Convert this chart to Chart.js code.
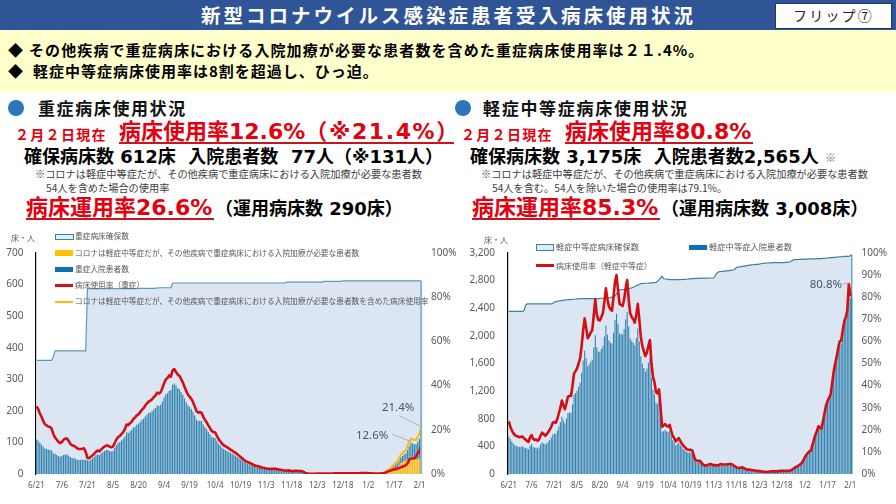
<!DOCTYPE html>
<html lang="ja"><head><meta charset="utf-8">
<script src="https://cdn.jsdelivr.net/npm/chart.js@4/dist/chart.umd.min.js"></script>
<style>
html,body{margin:0;padding:0;background:#fff;overflow:hidden}
#page{position:relative;width:896px;height:504px;overflow:hidden;font-family:"Noto Sans CJK JP",sans-serif}
.t{position:absolute;white-space:pre;transform:translateY(-50%);line-height:1.2}
.b{font-weight:700}
.wide{font-family:"DejaVu Sans","Noto Sans CJK JP",sans-serif;font-weight:700}
.red{color:#e3000f}
.big{font-size:22px}
.mid{font-size:18px;color:#000}
.note{font-size:10.2px;color:#404040}
.lg{font-size:7.7px;color:#595959}
.r{position:absolute}
canvas{position:absolute}
</style></head><body><div id="page">
<div class="r" style="left:0;top:0;width:896px;height:30px;background:#2f5597"></div>
<div class="t b" style="left:201px;top:15px;font-size:19.5px;letter-spacing:3px;color:#fff">新型コロナウイルス感染症患者受入病床使用状況</div>
<div class="r" style="left:775px;top:3px;width:115px;height:24px;background:#fff;border:1px solid #1f3864"></div>
<div class="t" style="left:793px;top:15px;font-size:14px;letter-spacing:2.2px;color:#222">フリップ⑦</div>
<div class="r" style="left:0;top:30px;width:896px;height:62px;background:#ffffcc"></div>
<div class="t b" style="left:8px;top:50px;font-size:15px;color:#000">◆</div>
<div class="t b" style="left:29px;top:50px;font-size:15px;letter-spacing:1.1px;color:#000">その他疾病で重症病床における入院加療が必要な患者数を含めた重症病床使用率は２１.4%。</div>
<div class="t b" style="left:8px;top:71px;font-size:15px;color:#000">◆</div>
<div class="t b" style="left:33px;top:71px;font-size:15px;letter-spacing:1px;color:#000">軽症中等症病床使用率は8割を超過し、ひっ迫。</div>

<div class="r" style="left:8px;top:100px;width:16px;height:16px;border-radius:50%;background:#2e75b6"></div>
<div class="t b" style="left:38px;top:108px;font-size:17px;letter-spacing:1.6px;color:#111">重症病床使用状況</div>
<div class="t b red" style="left:15px;top:134px;font-size:14px;letter-spacing:1.3px">２月２日現在</div>
<div class="t wide red big" style="left:119px;top:132px">病床使用率12.6%<span style="letter-spacing:1.6px">（※21.4%）</span></div>
<div class="r" style="left:119px;top:142px;width:335px;height:1.5px;background:#c5161d"></div>
<div class="t wide mid" style="left:24px;top:157px">確保病床数 612床  入院患者数  77人（※131人）</div>
<div class="t note" style="left:35px;top:174px">※コロナは軽症中等症だが、その他疾病で重症病床における入院加療が必要な患者数</div>
<div class="t note" style="left:46px;top:188px">54人を含めた場合の使用率</div>
<div class="t wide red big" style="left:26px;top:208px">病床運用率26.6%</div>
<div class="r" style="left:26px;top:218px;width:188px;height:1.5px;background:#c5161d"></div>
<div class="t wide mid" style="left:215px;top:209px">（運用病床数 290床）</div>

<div class="r" style="left:455px;top:100px;width:16px;height:16px;border-radius:50%;background:#2e75b6"></div>
<div class="t b" style="left:483px;top:108px;font-size:17px;letter-spacing:1.7px;color:#111">軽症中等症病床使用状況</div>
<div class="t b red" style="left:461px;top:134px;font-size:14px;letter-spacing:1.3px">２月２日現在</div>
<div class="t wide red big" style="left:565px;top:132px">病床使用率80.8%</div>
<div class="r" style="left:565px;top:142px;width:188px;height:1.5px;background:#c5161d"></div>
<div class="t wide mid" style="left:470px;top:157px">確保病床数 3,175床  入院患者数2,565人</div>
<div class="t" style="left:825px;top:158px;font-size:11px;color:#777">※</div>
<div class="t note" style="left:481px;top:174px">※コロナは軽症中等症だが、その他疾病で重症病床における入院加療が必要な患者数</div>
<div class="t note" style="left:492px;top:188px">54人を含む。54人を除いた場合の使用率は79.1%。</div>
<div class="t wide red big" style="left:472px;top:208px">病床運用率85.3%</div>
<div class="r" style="left:472px;top:218px;width:188px;height:1.5px;background:#c5161d"></div>
<div class="t wide mid" style="left:661px;top:209px">（運用病床数 3,008床）</div>

<canvas id="c1" style="left:0;top:225px;width:470px;height:279px" width="470" height="279"></canvas>
<canvas id="c2" style="left:450px;top:225px;width:446px;height:279px" width="446" height="279"></canvas>

<div class="t lg" style="left:11px;top:238px;font-size:8px">床・人</div>
<div class="r" style="left:55px;top:234px;width:17px;height:4px;background:#deeef8;border:1px solid #3f8298"></div>
<div class="t lg" style="left:75px;top:236px">重症病床確保数</div>
<div class="r" style="left:55px;top:250px;width:18px;height:6px;background:#ffc000"></div>
<div class="t lg" style="left:75px;top:253px">コロナは軽症中等症だが、その他疾病で重症病床における入院加療が必要な患者数</div>
<div class="r" style="left:55px;top:267px;width:18px;height:5px;background:#0f6fb5"></div>
<div class="t lg" style="left:75px;top:269px">重症入院患者数</div>
<div class="r" style="left:55px;top:284px;width:18px;height:2.5px;background:#d40f14"></div>
<div class="t lg" style="left:75px;top:285px">病床使用率（重症）</div>
<div class="r" style="left:55px;top:301px;width:18px;height:2px;background:#ffc000"></div>
<div class="t lg" style="left:75px;top:301px">コロナは軽症中等症だが、その他疾病で重症病床における入院加療が必要な患者数を含めた病床使用率</div>

<div class="t lg" style="left:484px;top:240px;font-size:8px">床・人</div>
<div class="r" style="left:536px;top:244px;width:16px;height:5px;background:#deeef8;border:1px solid #3f8298"></div>
<div class="t lg" style="left:556px;top:247px;font-size:8.3px">軽症中等症病床確保数</div>
<div class="r" style="left:536px;top:264px;width:18px;height:2.5px;background:#d40f14"></div>
<div class="t lg" style="left:556px;top:266px;font-size:8px">病床使用率（軽症中等症）</div>
<div class="r" style="left:689px;top:245px;width:18px;height:5px;background:#0f6fb5"></div>
<div class="t lg" style="left:709px;top:247px;font-size:8.3px">軽症中等症入院患者数</div>
</div>
<script>
const monthSpans = [[6,21,30],[7,1,31],[8,1,31],[9,1,30],[10,1,31],[11,1,30],[12,1,31],[1,1,31],[2,1,2]];
const categories = [];
monthSpans.forEach(([m,a,b])=>{for(let d=a;d<=b;d++)categories.push(m+'/'+d);});
const tickLabels = ['6/21','7/6','7/21','8/5','8/20','9/4','9/19','10/4','10/19','11/3','11/18','12/3','12/18','1/2','1/17','2/1'];

const severeCapacity = [
360,360,360,360,360,360,360,360,360,360,
372,390,390,390,390,390,390,390,390,390,
390,390,390,390,390,390,390,390,390,390,
587,587,587,587,587,587,587,587,587,587,
587,587,587,587,587,587,587,587,587,587,
587,587,587,587,587,587,587,587,587,587,
588,588,588,588,588,588,588,588,588,588,
589,589,590,590,590,590,590,590,590,590,
605,605,605,605,605,605,605,605,605,605,
605,605,605,605,605,605,605,605,605,605,
605,605,605,605,605,605,605,605,605,605,
605,605,605,605,605,605,605,605,605,605,
605,605,605,605,605,605,605,605,605,605,
605,605,605,605,605,605,605,605,605,605,
605,605,605,605,605,605,605,608,608,608,
608,608,608,608,608,608,608,608,608,608,
608,608,608,608,608,608,608,608,608,610,
610,610,610,610,610,610,610,610,610,610,
612,612,612,612,612,612,612,612,612,612,
612,612,612,612,612,612,612,612,612,612,
612,612,612,612,612,612,612,612,612,612,
612,612,612,612,612,612,612,612,612,612,
612,612,612,612,612,612,612];
const severePatients = [
110,106,99,93,86,81,79,77,77,74,
65,64,60,57,55,57,60,62,62,58,
53,51,50,48,45,44,44,45,45,45,
43,42,46,49,54,59,62,60,65,69,
73,76,76,73,71,73,82,92,98,101,
106,112,119,132,130,135,139,147,150,156,
159,165,171,175,182,188,193,195,199,205,
209,217,215,219,229,242,252,256,263,266,
283,287,280,272,269,260,251,239,227,218,
212,206,197,185,173,168,169,168,157,148,
142,133,126,117,115,114,105,96,90,83,
79,76,73,70,67,64,61,58,54,50,
47,42,38,35,33,31,29,27,24,23,
22,21,18,17,16,15,15,15,14,14,
15,14,13,12,11,10,10,9,10,9,
8,8,9,9,8,8,8,6,3,2,
1,1,1,1,1,1,1,1,1,1,
1,1,1,1,1,2,2,2,2,2,
2,2,2,2,2,2,2,2,2,2,
2,2,2,2,2,2,2,2,1,1,
1,1,1,2,2,4,6,8,10,11,
12,13,15,17,18,20,22,24,29,40,
43,43,43,48,57,64,77];
const severeExtraTail = [2,4,4,5,6,10,13,17,19,26,34,37,40,42,47,48,55,54,51,46,45,48,54];
const severeExtra = new Array(204).fill(0).concat(severeExtraTail);
const severeRate = [
30.6,29.5,27.5,26,24,22.5,22,21.5,21.3,20.5,
18,16.5,15.5,14.5,14,14.5,15.5,16,16,15,
13.6,13,12.8,12.2,11.6,11.3,11.3,11.4,11.6,10,
7.3,7.2,7.8,8.4,9.2,10,10.6,10.2,11,11.8,
12.4,12.9,12.9,12.4,12.1,12.4,14,15.6,16.7,17.2,
18,19,20.3,22.4,22.1,23,23.6,25,25.6,26.5,
27,28,29,29.8,31,32,32.8,33.2,33.8,34.8,
35.6,36.8,36.4,37,38.8,41,42.8,43.4,44.6,44,
46.8,47.5,46.2,45,44.4,43,41.5,39.5,37.5,36,
35,34,32.6,30.6,28.6,27.8,28,27.7,26,24.5,
23.4,22,20.8,19.4,19,18.8,17.3,15.8,14.8,13.8,
13,12.6,12.1,11.6,11,10.6,10,9.6,9,8.3,
7.7,7,6.3,5.8,5.5,5.1,4.8,4.4,3.9,3.7,
3.6,3.4,3,2.8,2.7,2.5,2.4,2.4,2.3,2.3,
2.5,2.3,2.1,2,1.8,1.7,1.6,1.5,1.7,1.5,
1.3,1.3,1.5,1.4,1.3,1.3,1.3,0.9,0.5,0.3,
0.1,0.1,0.1,0.1,0.1,0.2,0.2,0.2,0.2,0.2,
0.2,0.2,0.2,0.2,0.2,0.3,0.3,0.3,0.3,0.3,
0.3,0.3,0.3,0.3,0.3,0.3,0.3,0.3,0.3,0.3,
0.3,0.4,0.4,0.4,0.4,0.3,0.3,0.3,0.2,0.2,
0.2,0.2,0.2,0.3,0.4,0.6,1,1.3,1.6,1.8,
2,2.2,2.4,2.7,3,3.3,3.6,4,4.8,6.6,
7,7,7.1,7.8,9.4,10.5,12.6];
const severeRateExtraTail = [0.7,1,1.6,2.2,2.6,3.4,4.2,5,5.6,7,8.6,9.4,10.2,10.9,12.5,14.5,16,15.8,15.4,15.4,16.8,18.4,21.4];
const severeRateExtra = new Array(204).fill(null).concat(severeRateExtraTail);

const moderateCapacity = [
2356,2356,2356,2356,2356,2356,2356,2356,2356,2356,
2365,2440,2462,2462,2462,2462,2462,2462,2462,2462,
2462,2462,2462,2462,2462,2462,2462,2462,2462,2470,
2490,2495,2500,2505,2510,2510,2515,2520,2520,2525,
2525,2525,2530,2530,2530,2535,2535,2540,2540,2540,
2540,2540,2540,2540,2540,2540,2540,2540,2540,2540,
2544,2545,2545,2548,2550,2550,2552,2555,2560,2565,
2580,2610,2650,2665,2668,2670,2672,2675,2680,2685,
2690,2695,2705,2715,2725,2735,2745,2756,2758,2760,
2762,2762,2765,2765,2768,2770,2770,2775,2790,2810,
2835,2862,2830,2824,2820,2818,2815,2814,2814,2814,
2814,2814,2815,2815,2816,2817,2818,2820,2822,2825,
2830,2830,2830,2832,2832,2833,2834,2835,2835,2835,
2836,2836,2838,2838,2838,2838,2870,2905,2925,2930,
2932,2935,2938,2940,2942,2945,2948,2950,2955,2965,
2993,2995,2998,3002,3006,3010,3014,3018,3022,3025,
3028,3030,3032,3034,3036,3040,3044,3048,3050,3052,
3055,3055,3058,3058,3060,3060,3060,3060,3060,3062,
3062,3062,3064,3065,3065,3070,3080,3095,3104,3105,
3106,3106,3108,3108,3110,3110,3112,3112,3114,3114,
3114,3116,3116,3118,3118,3120,3120,3122,3122,3124,
3128,3130,3132,3134,3136,3138,3140,3142,3144,3146,
3148,3150,3150,3152,3152,3160,3175];
const moderatePatients = [
540,505,470,440,415,405,400,392,396,398,
383,380,370,357,406,433,394,379,384,369,
384,431,460,443,426,443,468,492,529,571,
585,578,625,688,750,830,776,735,803,878,
890,888,1008,1146,1172,1205,1262,1320,1465,1645,
1785,1675,1560,1590,1627,1655,1830,2010,1834,1775,
1770,1810,1855,1990,2145,2018,1935,1905,1890,2045,
2225,2320,2175,2030,2030,2020,2100,2240,2350,2135,
1965,1925,1900,1865,1965,2105,1920,1705,1600,1535,
1480,1525,1610,1680,1385,1220,1155,1030,1015,1065,
840,610,620,640,615,605,625,550,487,456,
414,436,457,423,390,361,344,322,311,308,
311,297,227,176,170,171,171,143,120,111,
108,117,125,128,120,115,115,112,113,126,
132,127,127,128,131,133,134,132,118,106,
91,85,82,88,91,79,70,61,61,58,
55,52,49,46,43,40,37,34,31,31,
28,31,34,37,37,37,40,37,40,43,
43,46,43,43,43,46,53,65,84,96,
109,121,134,156,193,234,271,296,318,331,
406,481,556,609,675,656,641,750,860,970,
1033,1080,1124,1284,1441,1566,1660,1785,1880,1890,
2036,2160,2224,2320,2695,2545,2565];
const moderateRate = [
23.8,21.5,19.8,18.5,17.6,17.2,17,16.6,16.8,16.9,
16.2,15.6,15,14.5,16.5,17.6,16,15.4,15.6,15,
15.6,17.5,18.7,18,17.3,18,19,20,21.5,23.2,
23.5,23.2,25,27.5,30,33.2,31,29.3,32,35,
35.4,35.3,40,45.5,46.5,47.8,50,52.3,58,65,
70.4,66,61.4,62.5,64,65,72,79,72,69.7,
69.5,71,72.7,78,84,79,75.7,74.5,73.9,80,
87,90,83,77,76.5,76,79,84,87.8,79,
72.7,71,70,68.5,72,77,70,62,58,55.5,
53.4,55,58,60.6,50,44,41.5,37,36.5,38.3,
30,21.4,22,22.6,21.8,21.4,22.2,19.5,17.3,16.2,
14.7,15.5,16.2,15,13.8,12.8,12.2,11.4,11,10.9,
11,10.5,8,6.2,6,6,6,5,4.2,3.9,
3.8,4.1,4.4,4.5,4.2,4,4,3.9,3.9,4.3,
4.5,4.3,4.3,4.3,4.4,4.5,4.5,4.4,3.9,3.5,
3,2.8,2.7,2.9,3,2.6,2.3,2,2,1.9,
1.8,1.7,1.6,1.5,1.4,1.3,1.2,1.1,1,1,
0.9,1,1.1,1.2,1.2,1.2,1.3,1.2,1.3,1.4,
1.4,1.5,1.4,1.4,1.4,1.5,1.7,2.1,2.7,3.1,
3.5,3.9,4.3,5,6.2,7.5,8.7,9.5,10.2,10.6,
13,15.4,17.8,19.5,21.6,21,20.5,24,27.5,31,
33,34.5,35.9,41,46,50,53,57,60,60.3,
65,69,71,74,86,81,80.8];

const FONT='"Noto Sans","Noto Sans CJK JP",sans-serif';
const TICK='#595959', RED='#d40f14', ORANGE='#ffb900', BAR='#3584b0', FILL='#dce6f3';

function plugins(cfg){return [{id:'deco',afterDatasetsDraw(ch){
  const ctx=ch.ctx,x=ch.scales.x,y=ch.scales.y,y1=ch.scales.y1,last=categories.length-1;
  ctx.save();
  const ex=x.getPixelForValue(last),ey=y.getPixelForValue(cfg.capacity[last]);
  ctx.strokeStyle=cfg.endColor;ctx.lineWidth=cfg.endWidth;
  ctx.beginPath();ctx.moveTo(ex,ey);ctx.lineTo(ex,y.bottom);ctx.stroke();
  cfg.notes.forEach(n=>{
    const vx=x.getPixelForValue(n.i),vy=y1.getPixelForValue(n.v);
    ctx.strokeStyle='#a6a6a6';ctx.lineWidth=.8;
    ctx.beginPath();ctx.moveTo(vx+n.lx,vy+n.ly);ctx.lineTo(vx+n.ex,vy+n.ey);ctx.stroke();
    ctx.fillStyle='#44546a';ctx.font='11.5px '+FONT;ctx.textAlign='center';ctx.textBaseline='middle';
    ctx.fillText(n.text,vx+n.dx,vy+n.dy);
  });
  ctx.restore();
}}];}

function build(id,datasets,cfg){
  new Chart(document.getElementById(id),{
    type:'bar',
    data:{labels:categories,datasets},
    plugins:plugins(cfg),
    options:{
      responsive:false,animation:false,devicePixelRatio:1,
      layout:{padding:{top:28,left:0,right:0,bottom:0}},
      plugins:{legend:{display:false},tooltip:{enabled:false}},
      scales:{
        x:{stacked:true,offset:true,grid:{display:false,drawTicks:false},border:{display:false},
          afterFit(s){s.height=30;},
          ticks:{autoSkip:false,maxRotation:0,minRotation:0,padding:7,color:TICK,font:{size:8,family:FONT},
            callback(v){const l=categories[v];return tickLabels.includes(l)&&(v%15===0)?l:'';}}},
        y:{stacked:true,position:'left',min:0,max:cfg.max,grid:{display:false,drawTicks:false},
          border:{display:true,color:'#000',width:1.2},
          afterFit(s){s.width=cfg.leftW;},
          ticks:{stepSize:cfg.step,padding:cfg.leftPad,color:TICK,font:{size:10,family:FONT}}},
        y1:{position:'right',min:0,max:100,grid:{display:false,drawTicks:false},border:{display:false},
          afterFit(s){s.width=cfg.rightW;},
          ticks:{stepSize:cfg.rstep,padding:9,color:TICK,font:{size:10,family:FONT},callback:v=>v+'%'}}
      }
    }
  });
}
const capDs=(d,c)=>({type:'line',label:'cap',data:d,yAxisID:'y',order:9,fill:'origin',backgroundColor:FILL,borderColor:c,borderWidth:1.2,pointRadius:0,tension:0});
const barDs=(d,c,o)=>({type:'bar',data:d,yAxisID:'y',order:o,backgroundColor:c,barPercentage:.72,categoryPercentage:1,borderWidth:0});
const lineDs=(d,c,w,o)=>({type:'line',data:d,yAxisID:'y1',order:o,borderColor:c,borderWidth:w,pointRadius:0,tension:0,fill:false,spanGaps:false,borderJoinStyle:'round'});

build('c1',[
  capDs(severeCapacity,'#5b9ab8'),
  barDs(severePatients,BAR,4),
  barDs(severeExtra,ORANGE,3),
  lineDs(severeRateExtra,ORANGE,2,2),
  lineDs(severeRate,RED,2.6,1)
],{capacity:severeCapacity,endColor:'#88b4c9',endWidth:2,max:700,step:100,rstep:20,leftW:35.5,leftPad:12,rightW:48,
 notes:[{i:226,v:21.4,text:'21.4%',dx:-23,dy:-19,lx:-22,ly:-11,ex:0,ey:0},
        {i:226,v:12.6,text:'12.6%',dx:-49,dy:-10,lx:-29,ly:-12,ex:-9,ey:-4}]});
build('c2',[
  capDs(moderateCapacity,'#3f8298'),
  barDs(moderatePatients,BAR,4),
  lineDs(moderateRate,RED,2.6,1)
],{capacity:moderateCapacity,endColor:'#2f7f99',endWidth:1,max:3200,step:400,rstep:10,leftW:58,leftPad:13,rightW:43.4,
 notes:[{i:226,v:80.8,text:'80.8%',dx:-26,dy:-11,lx:-9,ly:-12,ex:-3,ey:-12}]});
</script></body></html>
